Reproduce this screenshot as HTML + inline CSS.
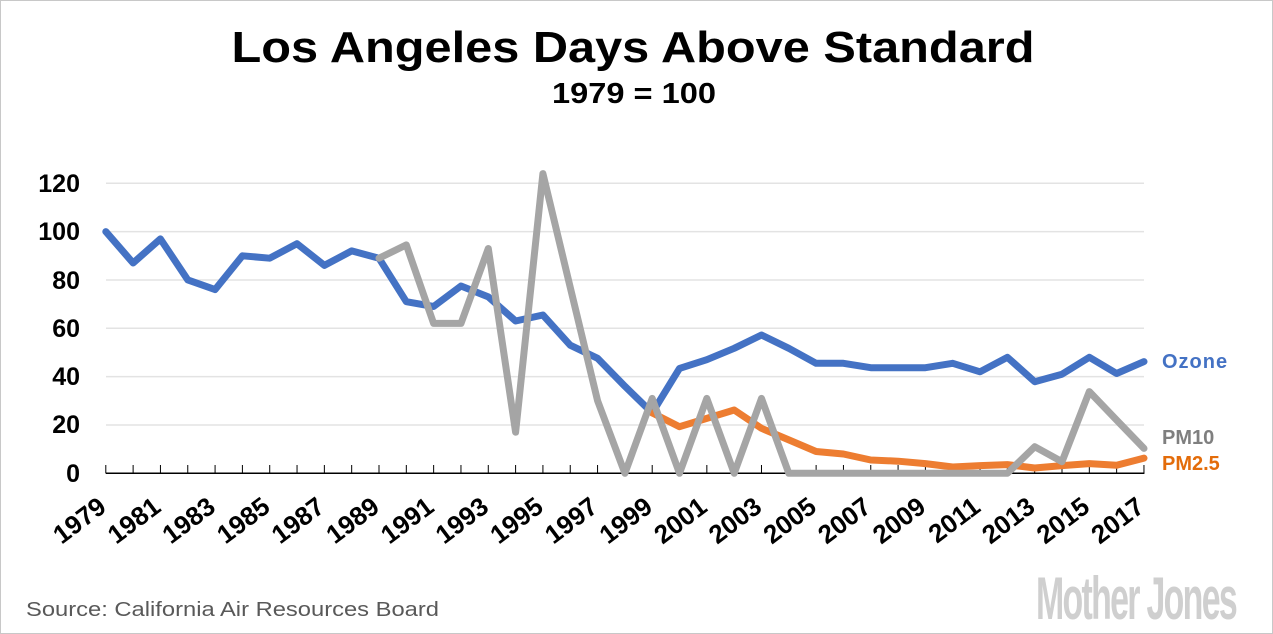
<!DOCTYPE html>
<html><head><meta charset="utf-8"><style>
html,body{margin:0;padding:0;background:#fff}
svg{display:block}
text{font-family:"Liberation Sans",sans-serif}
</style></head><body>
<svg width="1273" height="634" viewBox="0 0 1273 634" xmlns="http://www.w3.org/2000/svg">
<rect x="0.5" y="0.5" width="1272" height="633" fill="#fff" stroke="#c8c8c8"/>
<text x="633" y="62" text-anchor="middle" font-size="44" font-weight="bold" textLength="803" lengthAdjust="spacingAndGlyphs">Los Angeles Days Above Standard</text>
<text x="634" y="103" text-anchor="middle" font-size="29" font-weight="bold" textLength="164" lengthAdjust="spacingAndGlyphs">1979 = 100</text>
<g stroke="#e3e3e3" stroke-width="1.5">
<line x1="106" x2="1144" y1="183.3" y2="183.3"/>
<line x1="106" x2="1144" y1="231.6" y2="231.6"/>
<line x1="106" x2="1144" y1="280" y2="280"/>
<line x1="106" x2="1144" y1="328.3" y2="328.3"/>
<line x1="106" x2="1144" y1="376.6" y2="376.6"/>
<line x1="106" x2="1144" y1="425" y2="425"/>
</g>
<g font-size="25" font-weight="bold" text-anchor="end">
<text x="80" y="192">120</text><text x="80" y="240">100</text><text x="80" y="289">80</text>
<text x="80" y="337">60</text><text x="80" y="385">40</text><text x="80" y="433">20</text><text x="80" y="482">0</text>
</g>
<g id="axis"></g>
<g id="lines"></g>
<g id="xl" font-size="26" font-weight="bold" text-anchor="end"></g>
<text x="1162" y="368" font-size="20" font-weight="bold" fill="#4472C4" letter-spacing="1">Ozone</text>
<text x="1162" y="444" font-size="20" font-weight="bold" fill="#7f7f7f">PM10</text>
<text x="1162" y="470" font-size="20" font-weight="bold" fill="#E36C0A">PM2.5</text>
<text x="26" y="616" font-size="20" fill="#595959" font-family="DejaVu Sans, sans-serif" textLength="413" lengthAdjust="spacingAndGlyphs">Source: California Air Resources Board</text>
<text x="1036" y="619" font-size="60" font-weight="bold" fill="#cfcfcf" textLength="200" lengthAdjust="spacingAndGlyphs" letter-spacing="-3">Mother Jones</text>
</svg>
<script>
var X=i=>105.8+27.32*i, Y=v=>473.3-2.417*v;
var oz=[100,87,97,80,76,90,89,95,86,92,89,71,69,77.5,73,63,65.5,53,47.6,36,25,43.4,47,51.7,57.2,51.7,45.5,45.5,43.7,43.7,43.7,45.5,42,48,37.9,41,48,41.3,46.2];
var pm10={10:89,11:94.5,12:62,13:62,14:93,15:17,16:124,17:77,18:30,19:0,20:31,21:0,22:31,23:0,24:31,25:0,26:0,27:0,28:0,29:0,30:0,31:0,32:0,33:0,34:11,35:4.8,36:33.8,37:22,38:10.3};
var pm25={20:25,21:19.3,22:22.7,23:26.2,24:18.6,25:13.8,26:9,27:8,28:5.5,29:5,30:4,31:2.6,32:3.2,33:3.6,34:2.2,35:3.2,36:4,37:3.3,38:6.3};
var ns="http://www.w3.org/2000/svg";
function pl(pts,col){var p=document.createElementNS(ns,"polyline");p.setAttribute("points",pts.map(a=>X(a[0]).toFixed(1)+","+Y(a[1]).toFixed(1)).join(" "));p.setAttribute("fill","none");p.setAttribute("stroke",col);p.setAttribute("stroke-width","7");p.setAttribute("stroke-linejoin","round");p.setAttribute("stroke-linecap","round");document.getElementById("lines").appendChild(p);}
pl(oz.map((v,i)=>[i,v]),"#4472C4");
pl(Object.keys(pm25).map(k=>[+k,pm25[k]]),"#ED7D31");
pl(Object.keys(pm10).map(k=>[+k,pm10[k]]),"#A5A5A5");
var ax=document.getElementById("axis"),h='<line x1="105.8" x2="1144.4" y1="473.3" y2="473.3" stroke="#000" stroke-width="1.5"/>';
for(var i=0;i<=38;i++)h+='<line x1="'+X(i)+'" x2="'+X(i)+'" y1="465" y2="473.3" stroke="#000" stroke-width="1"/>';
ax.innerHTML=h;
var xl=document.getElementById("xl"),t="";
for(var i=0;i<=38;i+=2){var x=X(i)+2,y=510;t+='<text x="'+x+'" y="'+y+'" transform="rotate(-37 '+x+' '+y+')">'+(1979+i)+'</text>';}
xl.innerHTML=t;
</script>
</body></html>
